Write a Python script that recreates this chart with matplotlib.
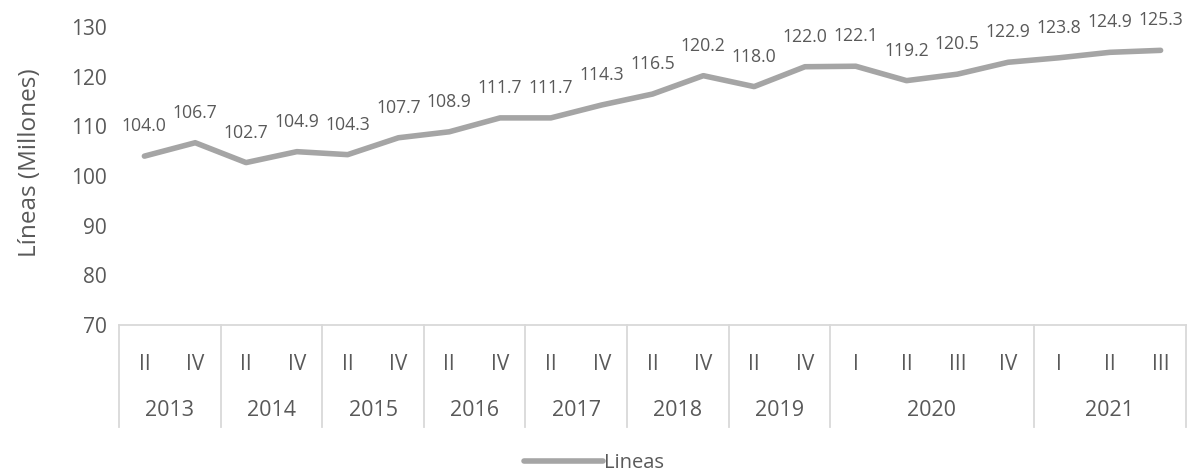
import matplotlib
matplotlib.use("Agg")
import matplotlib.pyplot as plt
from matplotlib.lines import Line2D

plt.rcParams['font.family'] = ['Open Sans', 'DejaVu Sans']

# ---- data ----
years = ["2013", "2014", "2015", "2016", "2017", "2018", "2019", "2020", "2021"]
quarters_per_year = [
    ["II", "IV"], ["II", "IV"], ["II", "IV"], ["II", "IV"], ["II", "IV"],
    ["II", "IV"], ["II", "IV"], ["I", "II", "III", "IV"], ["I", "II", "III"],
]
values = [104.0, 106.7, 102.7, 104.9, 104.3, 107.7, 108.9, 111.7, 111.7, 114.3,
          116.5, 120.2, 118.0, 122.0, 122.1, 119.2, 120.5, 122.9, 123.8, 124.9, 125.3]
series_name = "Lineas"
y_label = "Líneas (Millones)"
y_ticks = [70, 80, 90, 100, 110, 120, 130]

# ---- style ----
LINE_C = "#A5A5A5"
TEXT_C = "#595959"
GRID_C = "#D9D9D9"

W, H = 1188, 475
fig = plt.figure(figsize=(W / 100, H / 100), dpi=100)
left_px, right_px, top_px, bot_px = 119, 1186, 27, 325
ax = fig.add_axes([left_px / W, 1 - bot_px / H, (right_px - left_px) / W, (bot_px - top_px) / H])

x = list(range(len(values)))
ax.plot(x, values, color=LINE_C, lw=4.0, solid_joinstyle='round', solid_capstyle='round')

for xi, v in zip(x, values):
    ax.annotate(f"{v:.1f}", (xi, v), xytext=(0, 21.5), textcoords='offset points',
                ha='center', va='center', fontsize=12.7, color=TEXT_C)

ax.set_xlim(-0.5, len(values) - 0.5)
ax.set_ylim(70, 130)
ax.set_yticks(y_ticks)
ax.set_yticklabels([str(t) for t in y_ticks], fontsize=15, color=TEXT_C)
ax.tick_params(axis='y', length=0, pad=9)
ax.set_xticks([])
for s in ['top', 'right', 'left']:
    ax.spines[s].set_visible(False)
ax.spines['bottom'].set_color(GRID_C)
ax.spines['bottom'].set_linewidth(1.3)

ax.set_ylabel(y_label, fontsize=17.5, color=TEXT_C)
ax.yaxis.set_label_coords(-0.072, 0.545)

# multi-level category axis
trans = ax.get_xaxis_transform()
axh = bot_px - top_px
yq = -(364 - bot_px) / axh
yy = -(410 - bot_px) / axh
ysep = -(427 - bot_px) / axh

pos = 0
bounds = [-0.5]
for yr, qs in zip(years, quarters_per_year):
    start = pos
    for q in qs:
        ax.text(pos, yq, q, transform=trans, ha='center', va='center', fontsize=15, color=TEXT_C)
        pos += 1
    ax.text((start + pos - 1) / 2, yy, yr, transform=trans, ha='center', va='center',
            fontsize=15.5, color=TEXT_C)
    bounds.append(pos - 0.5)
for b in bounds:
    ax.plot([b, b], [0, ysep], transform=trans, color=GRID_C, lw=1.3, clip_on=False)

handle = Line2D([], [], color=LINE_C, lw=4.0, solid_capstyle='round')
leg = fig.legend([handle], [series_name], loc='center', bbox_to_anchor=(0.5, 1 - 463 / H),
                 frameon=False, fontsize=14.5, handlelength=3.9, handletextpad=0.05,
                 labelcolor=TEXT_C)

fig.savefig("out.png", dpi=100)
